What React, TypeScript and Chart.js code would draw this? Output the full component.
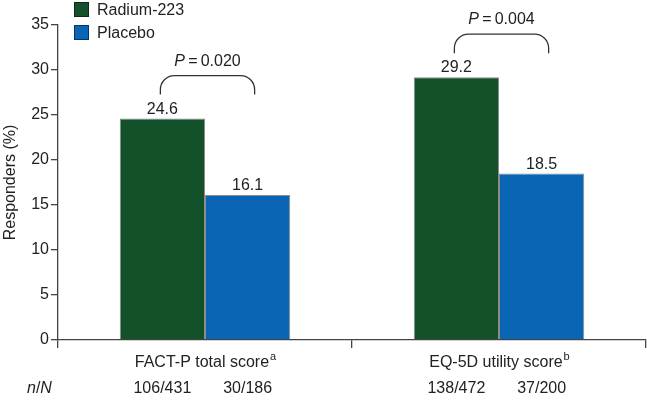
import React, { useEffect, useRef } from "react";
import { Chart, registerables } from "chart.js";

Chart.register(...registerables);

const categories = ["FACT-P total score", "EQ-5D utility score"];
const categorySuperscripts = ["a", "b"];
const seriesNames = ["Radium-223", "Placebo"];
const radiumValues = [24.6, 29.2];
const placeboValues = [16.1, 18.5];
const radiumCounts = ["106/431", "138/472"];
const placeboCounts = ["30/186", "37/200"];
const pValues = ["0.020", "0.004"];
const yTickMin = 0;
const yTickMax = 35;
const yTickStep = 5;

const GREEN = "#12512a";
const BLUE = "#0a65b5";
const TEXT = "#222222";
const AXIS = "#444444";
const FONT = '"Liberation Sans", Arial, Helvetica, sans-serif';

const overlayPlugin = {
  id: "overlay",
  afterDraw(chart: any) {
    const ctx = chart.ctx as CanvasRenderingContext2D;
    const m0 = chart.getDatasetMeta(0);
    const m1 = chart.getDatasetMeta(1);
    ctx.save();
    ctx.fillStyle = TEXT;
    ctx.textBaseline = "alphabetic";

    // Legend
    const colors = [GREEN, BLUE];
    seriesNames.forEach((name, i) => {
      const y = 2 + i * 23;
      ctx.fillStyle = colors[i];
      ctx.fillRect(74, y, 15, 15);
      ctx.strokeStyle = "rgba(0,0,0,0.45)";
      ctx.lineWidth = 1;
      ctx.strokeRect(74.5, y + 0.5, 14, 14);
      ctx.fillStyle = TEXT;
      ctx.font = `16px ${FONT}`;
      ctx.textAlign = "left";
      ctx.fillText(name, 97, y + 13);
    });

    // Value labels
    ctx.font = `16px ${FONT}`;
    ctx.textAlign = "center";
    [m0, m1].forEach((meta: any, d: number) => {
      const vals = d === 0 ? radiumValues : placeboValues;
      meta.data.forEach((bar: any, i: number) => {
        ctx.fillText(vals[i].toFixed(1), bar.x, bar.y - 5);
      });
    });

    // Brackets and P values
    categories.forEach((_, i) => {
      const b0 = m0.data[i];
      const b1 = m1.data[i];
      const left = b0.x - 2;
      const right = b1.x + 7;
      const top = Math.min(b0.y, b1.y) - 43;
      const bottom = top + 19;
      const r = 14;
      ctx.beginPath();
      ctx.moveTo(left, bottom);
      ctx.lineTo(left, top + r);
      ctx.arcTo(left, top, left + r, top, r);
      ctx.lineTo(right - r, top);
      ctx.arcTo(right, top, right, top + r, r);
      ctx.lineTo(right, bottom);
      ctx.strokeStyle = "#333";
      ctx.lineWidth = 1.3;
      ctx.stroke();

      const cx = (left + right) / 2;
      const base = top - 10;
      ctx.font = `italic 16px ${FONT}`;
      const pW = ctx.measureText("P").width;
      ctx.font = `16px ${FONT}`;
      const rest = "\u2009=\u20090." + pValues[i].slice(2);
      const rW = ctx.measureText(rest).width;
      const start = cx - (pW + rW) / 2;
      ctx.textAlign = "left";
      ctx.font = `italic 16px ${FONT}`;
      ctx.fillText("P", start, base);
      ctx.font = `16px ${FONT}`;
      ctx.fillText(rest, start + pW, base);
    });

    // Category labels with superscripts
    const xScale = chart.scales.x;
    categories.forEach((cat, i) => {
      const cx = xScale.getPixelForValue(i);
      ctx.font = `16px ${FONT}`;
      const w = ctx.measureText(cat).width;
      ctx.font = `11px ${FONT}`;
      const sw = ctx.measureText(categorySuperscripts[i]).width;
      const start = cx - (w + sw) / 2;
      ctx.textAlign = "left";
      ctx.font = `16px ${FONT}`;
      ctx.fillText(cat, start, 367);
      ctx.font = `11px ${FONT}`;
      ctx.fillText(categorySuperscripts[i], start + w + 1, 360);
    });

    // n/N row
    ctx.textAlign = "left";
    ctx.font = `italic 16px ${FONT}`;
    ctx.fillText("n", 27, 393);
    let x = 27 + ctx.measureText("n").width;
    ctx.font = `16px ${FONT}`;
    ctx.fillText("/", x, 393);
    x += ctx.measureText("/").width;
    ctx.font = `italic 16px ${FONT}`;
    ctx.fillText("N", x, 393);

    ctx.font = `16px ${FONT}`;
    ctx.textAlign = "center";
    m0.data.forEach((bar: any, i: number) => ctx.fillText(radiumCounts[i], bar.x, 393));
    m1.data.forEach((bar: any, i: number) => ctx.fillText(placeboCounts[i], bar.x, 393));

    ctx.restore();
  },
};

export default function App() {
  const ref = useRef<HTMLCanvasElement | null>(null);

  useEffect(() => {
    if (!ref.current) return;
    const chart = new Chart(ref.current, {
      type: "bar",
      data: {
        labels: categories,
        datasets: [
          {
            label: seriesNames[0],
            data: radiumValues,
            backgroundColor: GREEN,
            borderColor: "rgba(0,0,0,0.45)",
            borderWidth: 1,
            categoryPercentage: 0.58,
            barPercentage: 1,
          },
          {
            label: seriesNames[1],
            data: placeboValues,
            backgroundColor: BLUE,
            borderColor: "rgba(0,0,0,0.45)",
            borderWidth: 1,
            categoryPercentage: 0.58,
            barPercentage: 1,
          },
        ],
      },
      options: {
        responsive: false,
        animation: false,
        devicePixelRatio: 1,
        layout: { padding: { top: 25, right: 1, left: 0, bottom: 0 } },
        plugins: {
          legend: { display: false },
          tooltip: { enabled: false },
        },
        scales: {
          x: {
            offset: true,
            grid: {
              offset: true,
              drawOnChartArea: false,
              drawTicks: true,
              tickLength: 8,
              color: AXIS,
              lineWidth: 1.3,
            },
            border: { display: true, color: AXIS, width: 1.3 },
            ticks: { display: false },
            afterFit: (scale: any) => {
              scale.height = 60;
            },
          },
          y: {
            min: yTickMin,
            max: yTickMax,
            ticks: {
              stepSize: yTickStep,
              color: TEXT,
              font: { family: FONT, size: 16 },
              padding: 2,
            },
            grid: {
              drawOnChartArea: false,
              drawTicks: true,
              tickLength: 7,
              color: AXIS,
              lineWidth: 1.3,
            },
            border: { display: true, color: AXIS, width: 1.3 },
            title: {
              display: true,
              text: "Responders (%)",
              color: TEXT,
              font: { family: FONT, size: 16 },
              padding: { top: 1, bottom: 0 },
            },
            afterFit: (scale: any) => {
              scale.width = 58;
            },
          },
        },
      },
      plugins: [overlayPlugin],
    });
    return () => chart.destroy();
  }, []);

  return (
    <div style={{ position: "absolute", left: 0, top: 0, width: 647, height: 400, background: "#fff" }}>
      <canvas ref={ref} width={647} height={400} />
    </div>
  );
}
